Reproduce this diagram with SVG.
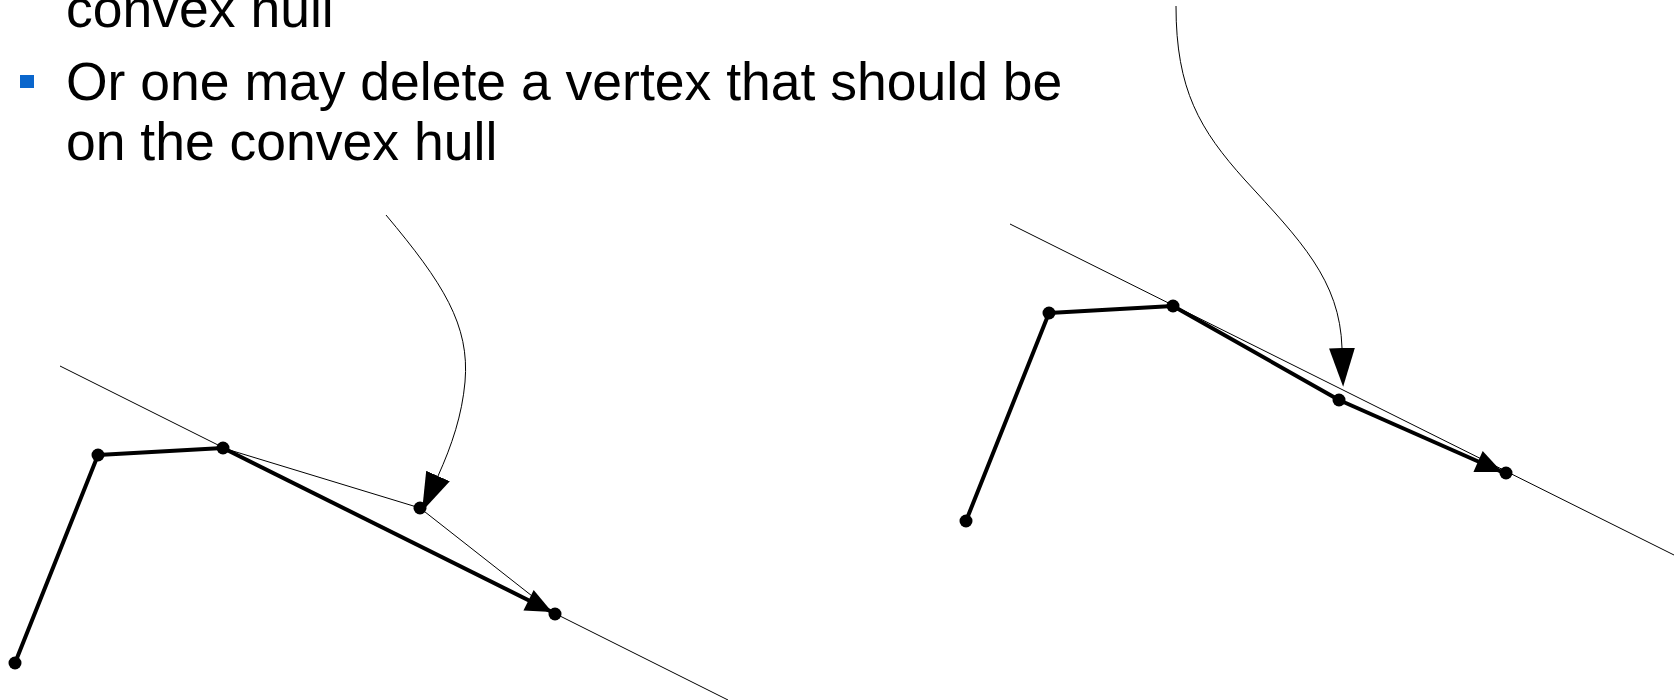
<svg xmlns="http://www.w3.org/2000/svg" width="1674" height="700" viewBox="0 0 1674 700">
<style>
.t{font-family:"Liberation Sans",Arial,sans-serif;font-size:53.5px;fill:#000}
.thin{stroke:#000;stroke-width:1;fill:none}
.thick{stroke:#000;stroke-width:4;fill:none;stroke-linejoin:round}
.dot{fill:#000}
</style>
<defs>
<marker id="ah" markerUnits="userSpaceOnUse" markerWidth="40" markerHeight="30" viewBox="0 -12 34 24" refX="0" refY="0" orient="auto">
<path d="M0,-11 L33,0 L0,11 z" fill="#000"/>
</marker>
<marker id="ahs" markerUnits="userSpaceOnUse" markerWidth="30" markerHeight="24" viewBox="0 -11 25 22" refX="24" refY="0" orient="auto">
<path d="M0,-10.5 L24,0 L0,10.5 z" fill="#000"/>
</marker>
</defs>
<g id="text">
<text class="t" x="66" y="27">convex hull</text>
<rect x="20" y="75" width="14" height="13" fill="#0a66cc"/>
<text class="t" x="66" y="100">Or one may delete a vertex that should be</text>
<text class="t" x="66" y="160">on the convex hull</text>
</g>
<g id="connectors">
<line class="thin" x1="60" y1="366" x2="728" y2="700"/>
<polyline class="thin" points="223,448 420,508 555,614"/>
<polyline class="thick" points="15,663 98,455 223,448"/>
<line class="thick" x1="223" y1="448" x2="552" y2="612" marker-end="url(#ahs)"/>
<path class="thin" d="M386,215 C443,283 470,325 465,382 C462,415 452,445 438,476" marker-end="url(#ah)"/>
<line class="thin" x1="1010" y1="224" x2="1674" y2="555"/>
<polyline class="thick" points="966,521 1049,313 1173,306 1339,400"/>
<line class="thick" x1="1339" y1="400" x2="1502" y2="472" marker-end="url(#ahs)"/>
<path class="thin" d="M1176,6 C1176,90 1200,130 1245,180 C1300,240 1340,280 1342,348" marker-end="url(#ah)"/>
</g>
<g id="left-vertices">
<circle class="dot" cx="15" cy="663" r="6.5"/>
<circle class="dot" cx="98" cy="455" r="6.5"/>
<circle class="dot" cx="223" cy="448" r="6.5"/>
<circle class="dot" cx="420" cy="508" r="6.5"/>
<circle class="dot" cx="555" cy="614" r="6.5"/>
</g>
<g id="right-vertices">
<circle class="dot" cx="966" cy="521" r="6.5"/>
<circle class="dot" cx="1049" cy="313" r="6.5"/>
<circle class="dot" cx="1173" cy="306" r="6.5"/>
<circle class="dot" cx="1339" cy="400" r="6.5"/>
<circle class="dot" cx="1506" cy="473" r="6.5"/>
</g>
</svg>
